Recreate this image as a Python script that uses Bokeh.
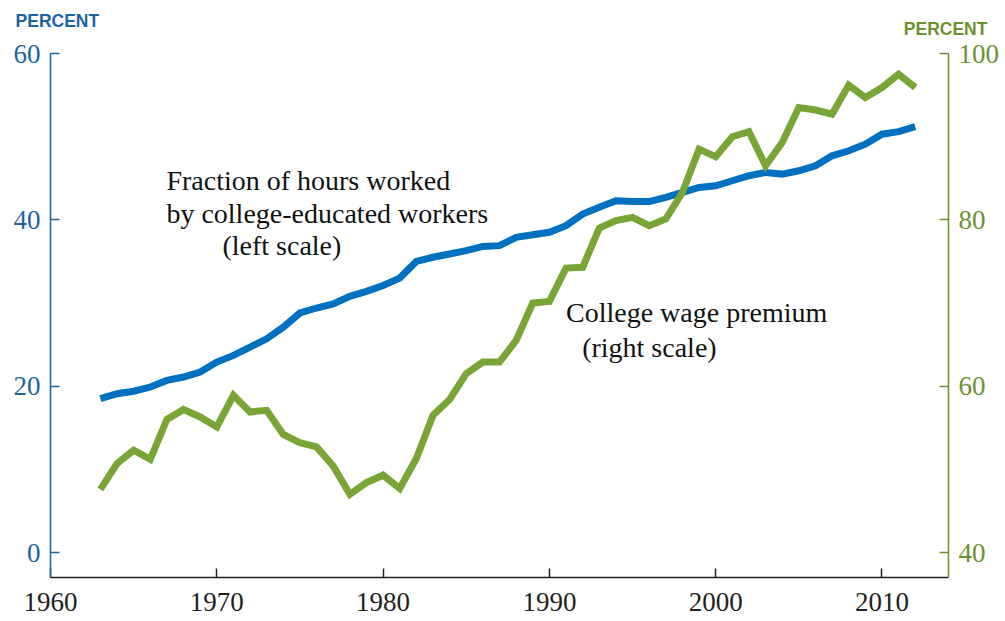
from bokeh.plotting import figure
from bokeh.models import Range1d, LinearAxis, FixedTicker, Label
from bokeh.embed import file_html
from bokeh.resources import INLINE

years = list(range(1963, 2013))
college_hours_share = [
    18.5, 19.1, 19.4, 19.9, 20.7, 21.1, 21.7, 22.9, 23.7, 24.7,
    25.7, 27.1, 28.8, 29.4, 29.9, 30.8, 31.4, 32.1, 33.0, 35.0,
    35.5, 35.9, 36.3, 36.8, 36.9, 37.9, 38.2, 38.5, 39.3, 40.7,
    41.5, 42.3, 42.2, 42.2, 42.7, 43.3, 43.9, 44.1, 44.7, 45.3,
    45.7, 45.5, 45.9, 46.5, 47.7, 48.3, 49.1, 50.3, 50.6, 51.2,
]
college_wage_premium = [
    47.6, 50.7, 52.3, 51.2, 56.0, 57.2, 56.3, 55.1, 58.9, 56.9,
    57.1, 54.2, 53.2, 52.7, 50.4, 47.0, 48.4, 49.3, 47.7, 51.3,
    56.5, 58.4, 61.5, 62.9, 62.9, 65.5, 70.0, 70.2, 74.2, 74.3,
    79.0, 79.9, 80.3, 79.3, 80.1, 83.3, 88.5, 87.6, 90.0, 90.6,
    86.5, 89.3, 93.5, 93.2, 92.7, 96.2, 94.7, 95.9, 97.5, 95.9,
]
x_ticks = [1960, 1970, 1980, 1990, 2000, 2010]
left_ticks = [0, 20, 40, 60]
right_ticks = [40, 60, 80, 100]

X_AXIS = (1960, 2014)     # extent of the bottom axis (years)
LEFT_AXIS = (-3, 60)      # extent of the left axis (percent)
RIGHT_AXIS = (37, 100)    # extent of the right axis (percent)

# page geometry of the axes box (pixels)
W, H = 1005, 621
AX_L, AX_R, AX_T, AX_B = 50, 948, 53, 577
xs = (AX_R - AX_L) / (X_AXIS[1] - X_AXIS[0])
ys = (AX_B - AX_T) / (LEFT_AXIS[1] - LEFT_AXIS[0])
x0 = X_AXIS[0] - AX_L / xs
x1 = X_AXIS[1] + (W - AX_R) / xs
y0 = LEFT_AXIS[0] - (H - AX_B) / ys
y1 = LEFT_AXIS[1] + AX_T / ys
shift = RIGHT_AXIS[0] - LEFT_AXIS[0]

BLUE_LINE = "#0071c1"
BLUE_TXT = "#1c64a2"
GREEN_LINE = "#78a535"
GREEN_TXT = "#6b9131"
DARK = "#231f20"
SERIF = "Liberation Serif"

p = figure(width=W, height=H, output_backend="svg", toolbar_location=None,
           x_range=Range1d(x0, x1), y_range=Range1d(y0, y1),
           min_border=0, min_border_left=0, min_border_right=0,
           min_border_top=0, min_border_bottom=0)
p.extra_y_ranges = {"right": Range1d(y0 + shift, y1 + shift)}
p.outline_line_color = None
p.xgrid.visible = False
p.ygrid.visible = False
p.background_fill_color = "white"
p.border_fill_color = "white"

def style_axis(ax, color, standoff):
    ax.axis_line_color = color
    ax.axis_line_width = 1.5
    ax.major_tick_line_color = color
    ax.major_tick_line_width = 1.5
    ax.major_tick_in = 9
    ax.major_tick_out = 0
    ax.minor_tick_line_color = None
    ax.major_label_text_font = SERIF
    ax.major_label_text_font_size = "27px"
    ax.major_label_text_color = color
    ax.major_label_standoff = standoff

xa = p.xaxis[0]
xa.ticker = FixedTicker(ticks=x_ticks)
xa.fixed_location = LEFT_AXIS[0]
xa.bounds = X_AXIS
style_axis(xa, DARK, 15)

ya = p.yaxis[0]
ya.ticker = FixedTicker(ticks=left_ticks)
ya.fixed_location = X_AXIS[0]
ya.bounds = LEFT_AXIS
style_axis(ya, BLUE_TXT, 10)

ra = LinearAxis(y_range_name="right", ticker=FixedTicker(ticks=right_ticks))
ra.fixed_location = X_AXIS[1]
ra.bounds = RIGHT_AXIS
style_axis(ra, GREEN_TXT, 10)
p.add_layout(ra, "right")

p.line(years, college_hours_share, line_color=BLUE_LINE, line_width=7,
       line_join="miter")
p.line(years, college_wage_premium, y_range_name="right", line_color=GREEN_LINE,
       line_width=7, line_join="miter")

def lab(x, y, text, color="#111111", font=SERIF, size="28px", style="normal",
        align="left", rng="default"):
    p.add_layout(Label(x=x, y=y, text=text, text_color=color, text_font=font,
                       text_font_size=size, text_font_style=style,
                       text_align=align, text_baseline="middle",
                       y_range_name=rng))

lab(1957.9, 63.85, "PERCENT", color=BLUE_TXT, font="Liberation Sans",
    size="17.5px", style="bold")
lab(2016.34, 102.9, "PERCENT", color=GREEN_TXT, font="Liberation Sans",
    size="17.5px", style="bold", align="right", rng="right")

lab(1966.97, 44.7, "Fraction of hours worked")
lab(1966.97, 40.8, "by college-educated workers")
lab(1970.34, 36.9, "(left scale)")
lab(1991.0, 68.9, "College wage premium", rng="right")
lab(1991.97, 64.6, "(right scale)", rng="right")

open("out.html", "w").write(file_html(p, INLINE))
